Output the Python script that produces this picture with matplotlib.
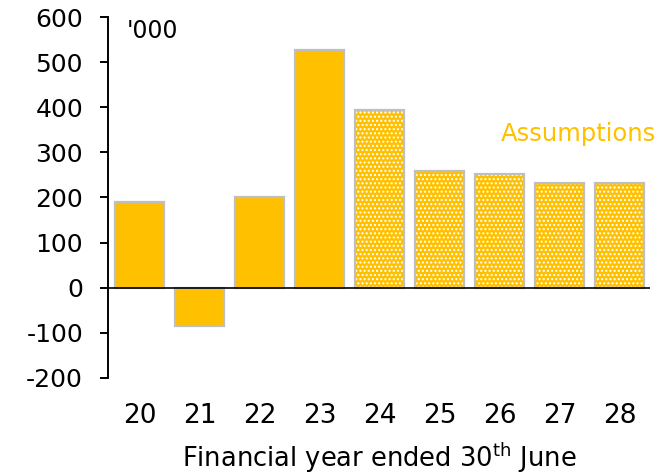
import matplotlib
matplotlib.use("Agg")
import matplotlib.pyplot as plt

years = ["20", "21", "22", "23", "24", "25", "26", "27", "28"]
values = [190, -86, 202, 528, 395, 259, 253, 233, 233]
assumed = [False, False, False, False, True, True, True, True, True]

YELLOW = "#FFC000"
EDGE = "#BFBFBF"

plt.rcParams["font.family"] = ["DejaVu Sans"]
plt.rcParams["axes.unicode_minus"] = False

fig = plt.figure(figsize=(6.63, 4.73), dpi=100)
ax = fig.add_axes([0.163, 0.201, 0.817, 0.763])

x = list(range(len(years)))
w = 0.82
for i, (v, a) in enumerate(zip(values, assumed)):
    if a:
        # estimates: white dotted fill, grey outline drawn on top
        ax.bar(i, v, width=w, color=YELLOW, edgecolor="white", hatch="....", linewidth=0)
        ax.bar(i, v, width=w, fill=False, edgecolor=EDGE, linewidth=1.6)
    else:
        ax.bar(i, v, width=w, color=YELLOW, edgecolor=EDGE, linewidth=1.6)

ax.set_xlim(-0.53, 8.5)
ax.set_ylim(-200, 600)
ax.set_yticks(range(-200, 601, 100))
ax.axhline(0, color="black", lw=1.2, zorder=3)

for s in ["top", "right", "bottom"]:
    ax.spines[s].set_visible(False)
ax.spines["left"].set_linewidth(1.4)

ax.set_xticks(x)
ax.set_xticklabels(years)
ax.tick_params(axis="x", length=0, pad=18, labelsize=19)
ax.tick_params(axis="y", length=6, width=1.4, labelsize=18, pad=12)
ax.set_xlabel("Financial year ended 30$^{\\mathrm{th}}$ June", fontsize=18.5, labelpad=8)

ax.text(0.035, 0.995, "'000", transform=ax.transAxes, fontsize=17, va="top")
ax.text(6.02, 340, "Assumptions", color=YELLOW, fontsize=17.5, va="center")

fig.savefig("out.png", dpi=100)
